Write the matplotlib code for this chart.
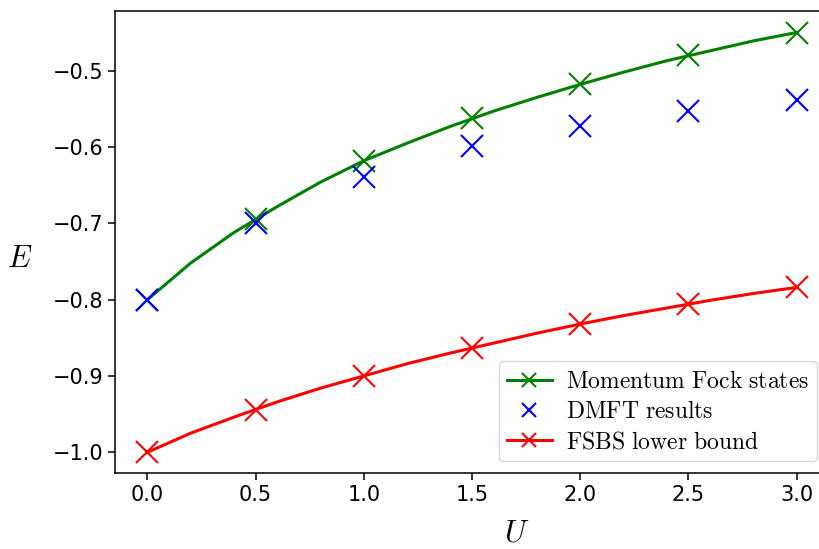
import matplotlib
matplotlib.use("Agg")
import matplotlib.pyplot as plt
from matplotlib.lines import Line2D

plt.rcParams['mathtext.fontset'] = 'cm'

# marker points
U = [0.0, 0.5, 1.0, 1.5, 2.0, 2.5, 3.0]
E_fock = [-0.800, -0.695, -0.618, -0.562, -0.518, -0.480, -0.450]
E_dmft = [-0.800, -0.700, -0.639, -0.599, -0.573, -0.553, -0.539]
E_fsbs = [-1.000, -0.944, -0.900, -0.863, -0.832, -0.806, -0.784]

# finer curves drawn as lines
U_fine = [0.0, 0.2, 0.4, 0.6, 0.8, 1.0, 1.2, 1.4, 1.6, 1.8, 2.0, 2.2, 2.4, 2.6, 2.8, 3.0]
E_fock_fine = [-0.800, -0.752, -0.712, -0.678, -0.646, -0.618, -0.595, -0.573,
               -0.553, -0.535, -0.518, -0.502, -0.487, -0.474, -0.461, -0.450]
E_fsbs_fine = [-1.000, -0.975, -0.954, -0.934, -0.916, -0.900, -0.884, -0.870,
               -0.857, -0.844, -0.832, -0.821, -0.811, -0.801, -0.792, -0.784]

fig = plt.figure(figsize=(8.19, 5.49), dpi=100)
# axes runs past the right edge (the reference is cropped there)
ax = fig.add_axes([115 / 819, 1 - 473.3 / 549, (829 - 115) / 819, (473.3 - 10.7) / 549])

lw = 2.2
ms = 16
mew = 1.5

ax.plot(U_fine, E_fock_fine, color='green', lw=lw)
ax.plot(U, E_fock, 'x', color='green', ms=ms, mew=mew)
ax.plot(U, E_dmft, 'x', color='blue', ms=ms, mew=mew)
ax.plot(U_fine, E_fsbs_fine, color='red', lw=lw)
ax.plot(U, E_fsbs, 'x', color='red', ms=ms, mew=mew)

ax.set_xlim(-0.15, 3.15)
ax.set_ylim(-1.0276, -0.4214)
ax.set_xticks([0.0, 0.5, 1.0, 1.5, 2.0, 2.5, 3.0])
ax.set_yticks([-1.0, -0.9, -0.8, -0.7, -0.6, -0.5])
ax.tick_params(labelsize=15, length=4.8, width=1.1)
for s in ax.spines.values():
    s.set_linewidth(1.1)

ax.set_xlabel(r'$U$', fontsize=22)
ax.xaxis.set_label_coords(0.563, -0.098)
ax.set_ylabel(r'$E$', fontsize=22, rotation=0, va='center')
ax.yaxis.set_label_coords(-0.134, 0.465)

handles = [
    Line2D([], [], color='green', lw=lw, marker='x', ms=9.5, mew=mew),
    Line2D([], [], color='blue', lw=0, marker='x', ms=9.5, mew=mew),
    Line2D([], [], color='red', lw=lw, marker='x', ms=9.5, mew=mew),
]
labels = [r'$\mathrm{Momentum\ Fock\ states}$',
          r'$\mathrm{DMFT\ results}$',
          r'$\mathrm{FSBS\ lower\ bound}$']
ax.legend(handles, labels, loc='lower right', fontsize=17, labelspacing=0.25,
          handlelength=1.9, handletextpad=0.6, borderpad=0.35)

fig.savefig('out.png', dpi=100)
